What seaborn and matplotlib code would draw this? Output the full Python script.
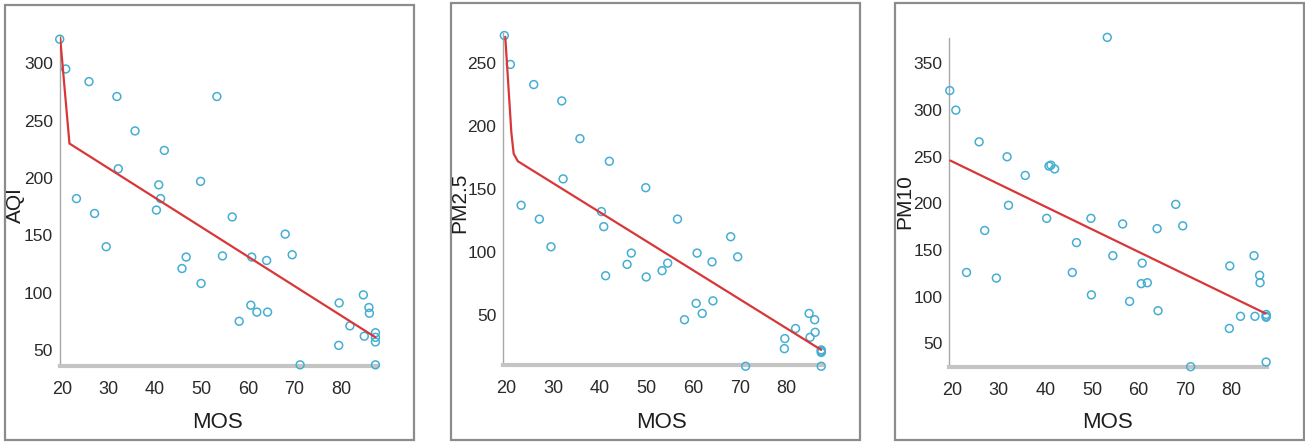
import matplotlib
matplotlib.use("Agg")
import matplotlib.pyplot as plt
from matplotlib.patches import Rectangle
import numpy as np
import pandas as pd
import seaborn as sns

# Mean opinion score of each sample and the pollutant readings at that time
mos = [19.5, 20.8, 23.1, 25.8, 27.0, 29.5, 31.8, 32.1, 35.7, 40.3, 40.8, 41.2,
       42.0, 45.8, 46.7, 49.8, 49.9, 53.3, 54.5, 56.6, 58.1, 60.6, 60.8, 61.9,
       64.0, 64.2, 68.0, 69.5, 71.2, 79.6, 79.5, 81.9, 84.8, 85.0, 86.0, 86.1,
       87.4, 87.4, 87.4, 87.4]
aqi = [321, 295, 182, 284, 169, 140, 271, 208, 241, 172, 194, 182,
       224, 121, 131, 197, 108, 271, 132, 166, 75, 89, 131, 83,
       128, 83, 151, 133, 37, 91, 54, 71, 98, 62, 87, 82,
       65, 61, 57, 37]
pm25 = [272, 249, 137, 233, 126, 104, 220, 158, 190, 132, 120, 81,
        172, 90, 99, 151, 80, 85, 91, 126, 46, 59, 99, 51,
        92, 61, 112, 96, 9, 31, 23, 39, 51, 32, 46, 36,
        22, 21, 20, 9]
pm10 = [321, 300, 126, 266, 171, 120, 250, 198, 230, 184, 240, 241,
        237, 126, 158, 184, 102, 378, 144, 178, 95, 114, 136, 115,
        173, 85, 199, 176, 25, 133, 66, 79, 144, 79, 123, 115,
        81, 79, 78, 30]

# Fitted trend for each pollutant
fit_mos_aqi = [19.6, 21.6, 87.4]
fit_aqi = [322, 230, 61]
fit_mos_pm25 = [19.7, 21.0, 21.5, 22.4, 87.4]
fit_pm25 = [271, 195, 178, 172, 22]
fit_mos_pm10 = [19.6, 87.3]
fit_pm10 = [246, 82]

x_ticks = [20, 30, 40, 50, 60, 70, 80]
panel_names = ["AQI", "PM2.5", "PM10"]
panel_values = [aqi, pm25, pm10]
panel_fits = [(fit_mos_aqi, fit_aqi), (fit_mos_pm25, fit_pm25), (fit_mos_pm10, fit_pm10)]
panel_yticks = [[50, 100, 150, 200, 250, 300],
                [50, 100, 150, 200, 250],
                [50, 100, 150, 200, 250, 300, 350]]
panel_ylims = [(36, 325), (10, 274), (25, 377)]
panel_xlims = [(19.5, 87.8), (19.3, 87.5), (19.4, 87.5)]

sns.set_style("white")
plt.rcParams["font.family"] = ["Liberation Sans", "DejaVu Sans"]

W, H = 1305, 442
fig = plt.figure(figsize=(W / 100, H / 100), dpi=100)
fig.patch.set_facecolor("white")

def fig_rect(left, top, right, bottom):
    return [left / W, 1 - bottom / H, (right - left) / W, (bottom - top) / H]

# Outer frames around each panel
frames = [(5, 5, 414, 440), (451, 3, 860, 440), (895, 3, 1304, 440)]
for (l, t, r, b) in frames:
    fig.add_artist(Rectangle((l / W, 1 - b / H), (r - l) / W, (b - t) / H,
                             transform=fig.transFigure, fill=False,
                             edgecolor="#8c8c8c", linewidth=1.6))

axes_boxes = [(59.7, 34.6, 377.3, 366.0),
              (503.4, 33.0, 821.7, 365.0),
              (949.3, 38.3, 1266.6, 366.7)]
ylabel_pos = [(15, 205), (460, 203), (905, 202)]
xlabel_pos = [(217, 423), (662, 423), (1107, 423)]

point_color = "#45aed3"
line_color = "#d8373a"

for i in range(3):
    ax = fig.add_axes(fig_rect(*axes_boxes[i]))
    df = pd.DataFrame({"MOS": mos, panel_names[i]: panel_values[i]})
    fx, fy = panel_fits[i]
    fit_df = pd.DataFrame({"MOS": fx, panel_names[i]: fy})

    sns.scatterplot(data=df, x="MOS", y=panel_names[i], ax=ax, marker="o",
                    s=32, facecolor="none", edgecolor=point_color,
                    linewidth=1.1, clip_on=False, zorder=3)
    sns.lineplot(data=fit_df, x="MOS", y=panel_names[i], ax=ax, sort=False,
                 estimator=None, color=line_color, linewidth=1.6, zorder=4)

    ax.set_xlim(*panel_xlims[i])
    ax.set_ylim(*panel_ylims[i])
    ax.set_xticks(x_ticks)
    ax.set_yticks(panel_yticks[i])
    ax.set_xlabel("")
    ax.set_ylabel("")
    ax.set_facecolor("none")

    for side in ("top", "right"):
        ax.spines[side].set_visible(False)
    ax.spines["left"].set_color("#a8a8a8")
    ax.spines["left"].set_linewidth(1.0)
    ax.spines["bottom"].set_color("#c4c4c4")
    ax.spines["bottom"].set_linewidth(3.0)

    ax.tick_params(axis="x", direction="in", length=4, width=0.8,
                   color="#777777", pad=11, labelsize=13, labelcolor="#2a2a2a")
    ax.tick_params(axis="y", direction="in", length=3, width=0.8,
                   color="#777777", pad=5, labelsize=12.5, labelcolor="#2a2a2a")

    lx, ly = ylabel_pos[i]
    fig.text(lx / W, 1 - ly / H, panel_names[i], rotation=90, ha="center",
             va="center", fontsize=15, color="#1e1e1e")
    mx, my = xlabel_pos[i]
    fig.text(mx / W, 1 - my / H, "MOS", ha="center", va="center",
             fontsize=16, color="#1e1e1e")

fig.savefig("out.png", dpi=100, facecolor="white")
